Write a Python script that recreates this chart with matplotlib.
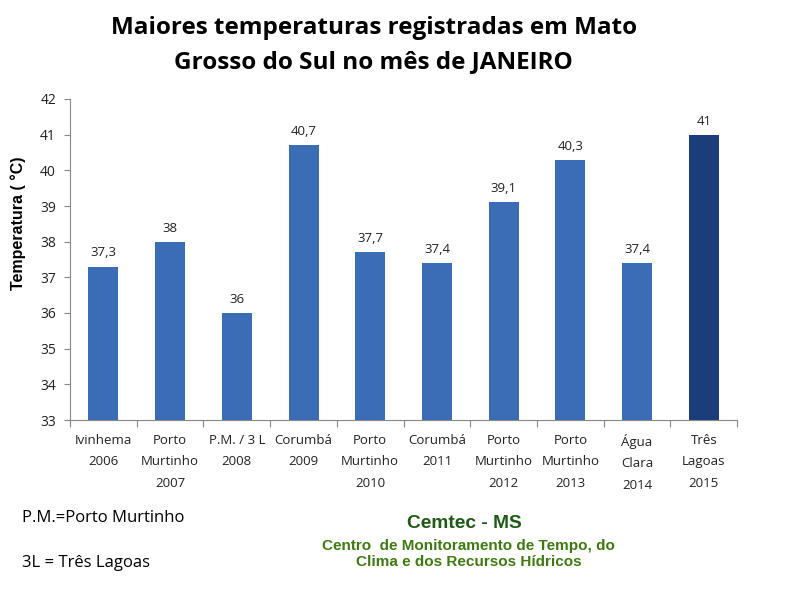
import numpy as np
import matplotlib.pyplot as plt

# dados do gráfico
cidades = ['Ivinhema\n2006', 'Porto\nMurtinho\n2007', 'P.M. / 3 L\n2008', 'Corumbá\n2009',
           'Porto\nMurtinho\n2010', 'Corumbá\n2011', 'Porto\nMurtinho\n2012',
           'Porto\nMurtinho\n2013', 'Água\nClara\n2014', 'Três\nLagoas\n2015']
temperaturas = [37.3, 38, 36, 40.7, 37.7, 37.4, 39.1, 40.3, 37.4, 41]
rotulos = ['37,3', '38', '36', '40,7', '37,7', '37,4', '39,1', '40,3', '37,4', '41']
y_ticks = [33, 34, 35, 36, 37, 38, 39, 40, 41, 42]

plt.rcParams['font.family'] = ['Open Sans', 'DejaVu Sans']

fig = plt.figure(figsize=(8, 6), dpi=100)
ax = fig.add_axes([0.0875, 0.30, 0.834, 0.535])

cores = ['#3a6db5'] * (len(temperaturas) - 1) + ['#1b3d7a']
x = np.arange(len(cidades))
ax.bar(x, np.array(temperaturas) - 33, bottom=33, width=0.45, color=cores)

for xi, t, r in zip(x, temperaturas, rotulos):
    ax.text(xi, t + 0.2, r, ha='center', va='bottom', fontsize=9.5, color='#222222')

ax.set_xlim(-0.5, len(cidades) - 0.5)
ax.set_ylim(33, 42)
ax.set_yticks(y_ticks)
ax.set_yticklabels([str(v) for v in y_ticks], fontsize=10, color='#222222')
ax.set_xticks(np.arange(len(cidades) + 1) - 0.5, minor=False)
ax.set_xticklabels([])
ax.set_xticks(x, minor=True)
ax.set_xticklabels(cidades, minor=True, fontsize=9.5, color='#222222', linespacing=1.85)
ax.tick_params(axis='x', which='minor', length=0, pad=10)
ax.tick_params(axis='x', which='major', length=5, color='#888888', direction='out')
ax.tick_params(axis='y', length=4, color='#888888', direction='out', pad=6)

for lado in ['top', 'right']:
    ax.spines[lado].set_visible(False)
for lado in ['left', 'bottom']:
    ax.spines[lado].set_color('#888888')

ax.set_ylabel('Temperatura ( °C)', fontsize=11.5, fontweight='bold', family='Liberation Sans')
ax.yaxis.set_label_coords(-0.066, 0.614)

fig.text(0.467, 0.925, 'Maiores temperaturas registradas em Mato\nGrosso do Sul no mês de JANEIRO',
         ha='center', va='center', fontsize=17.5, fontweight='bold', linespacing=1.55)

fig.text(0.027, 0.137, 'P.M.=Porto Murtinho', fontsize=12, va='center')
fig.text(0.027, 0.062, '3L = Três Lagoas', fontsize=12, va='center')

fig.text(0.581, 0.128, 'Cemtec - MS', ha='center', va='center', fontsize=13.8,
         fontweight='bold', color='#1e5a14', family='Liberation Sans')
fig.text(0.586, 0.077, 'Centro  de Monitoramento de Tempo, do\nClima e dos Recursos Hídricos',
         ha='center', va='center', fontsize=11, fontweight='bold', color='#3f7a10',
         family='Liberation Sans', linespacing=1.2)

fig.savefig('out.png', dpi=100)
